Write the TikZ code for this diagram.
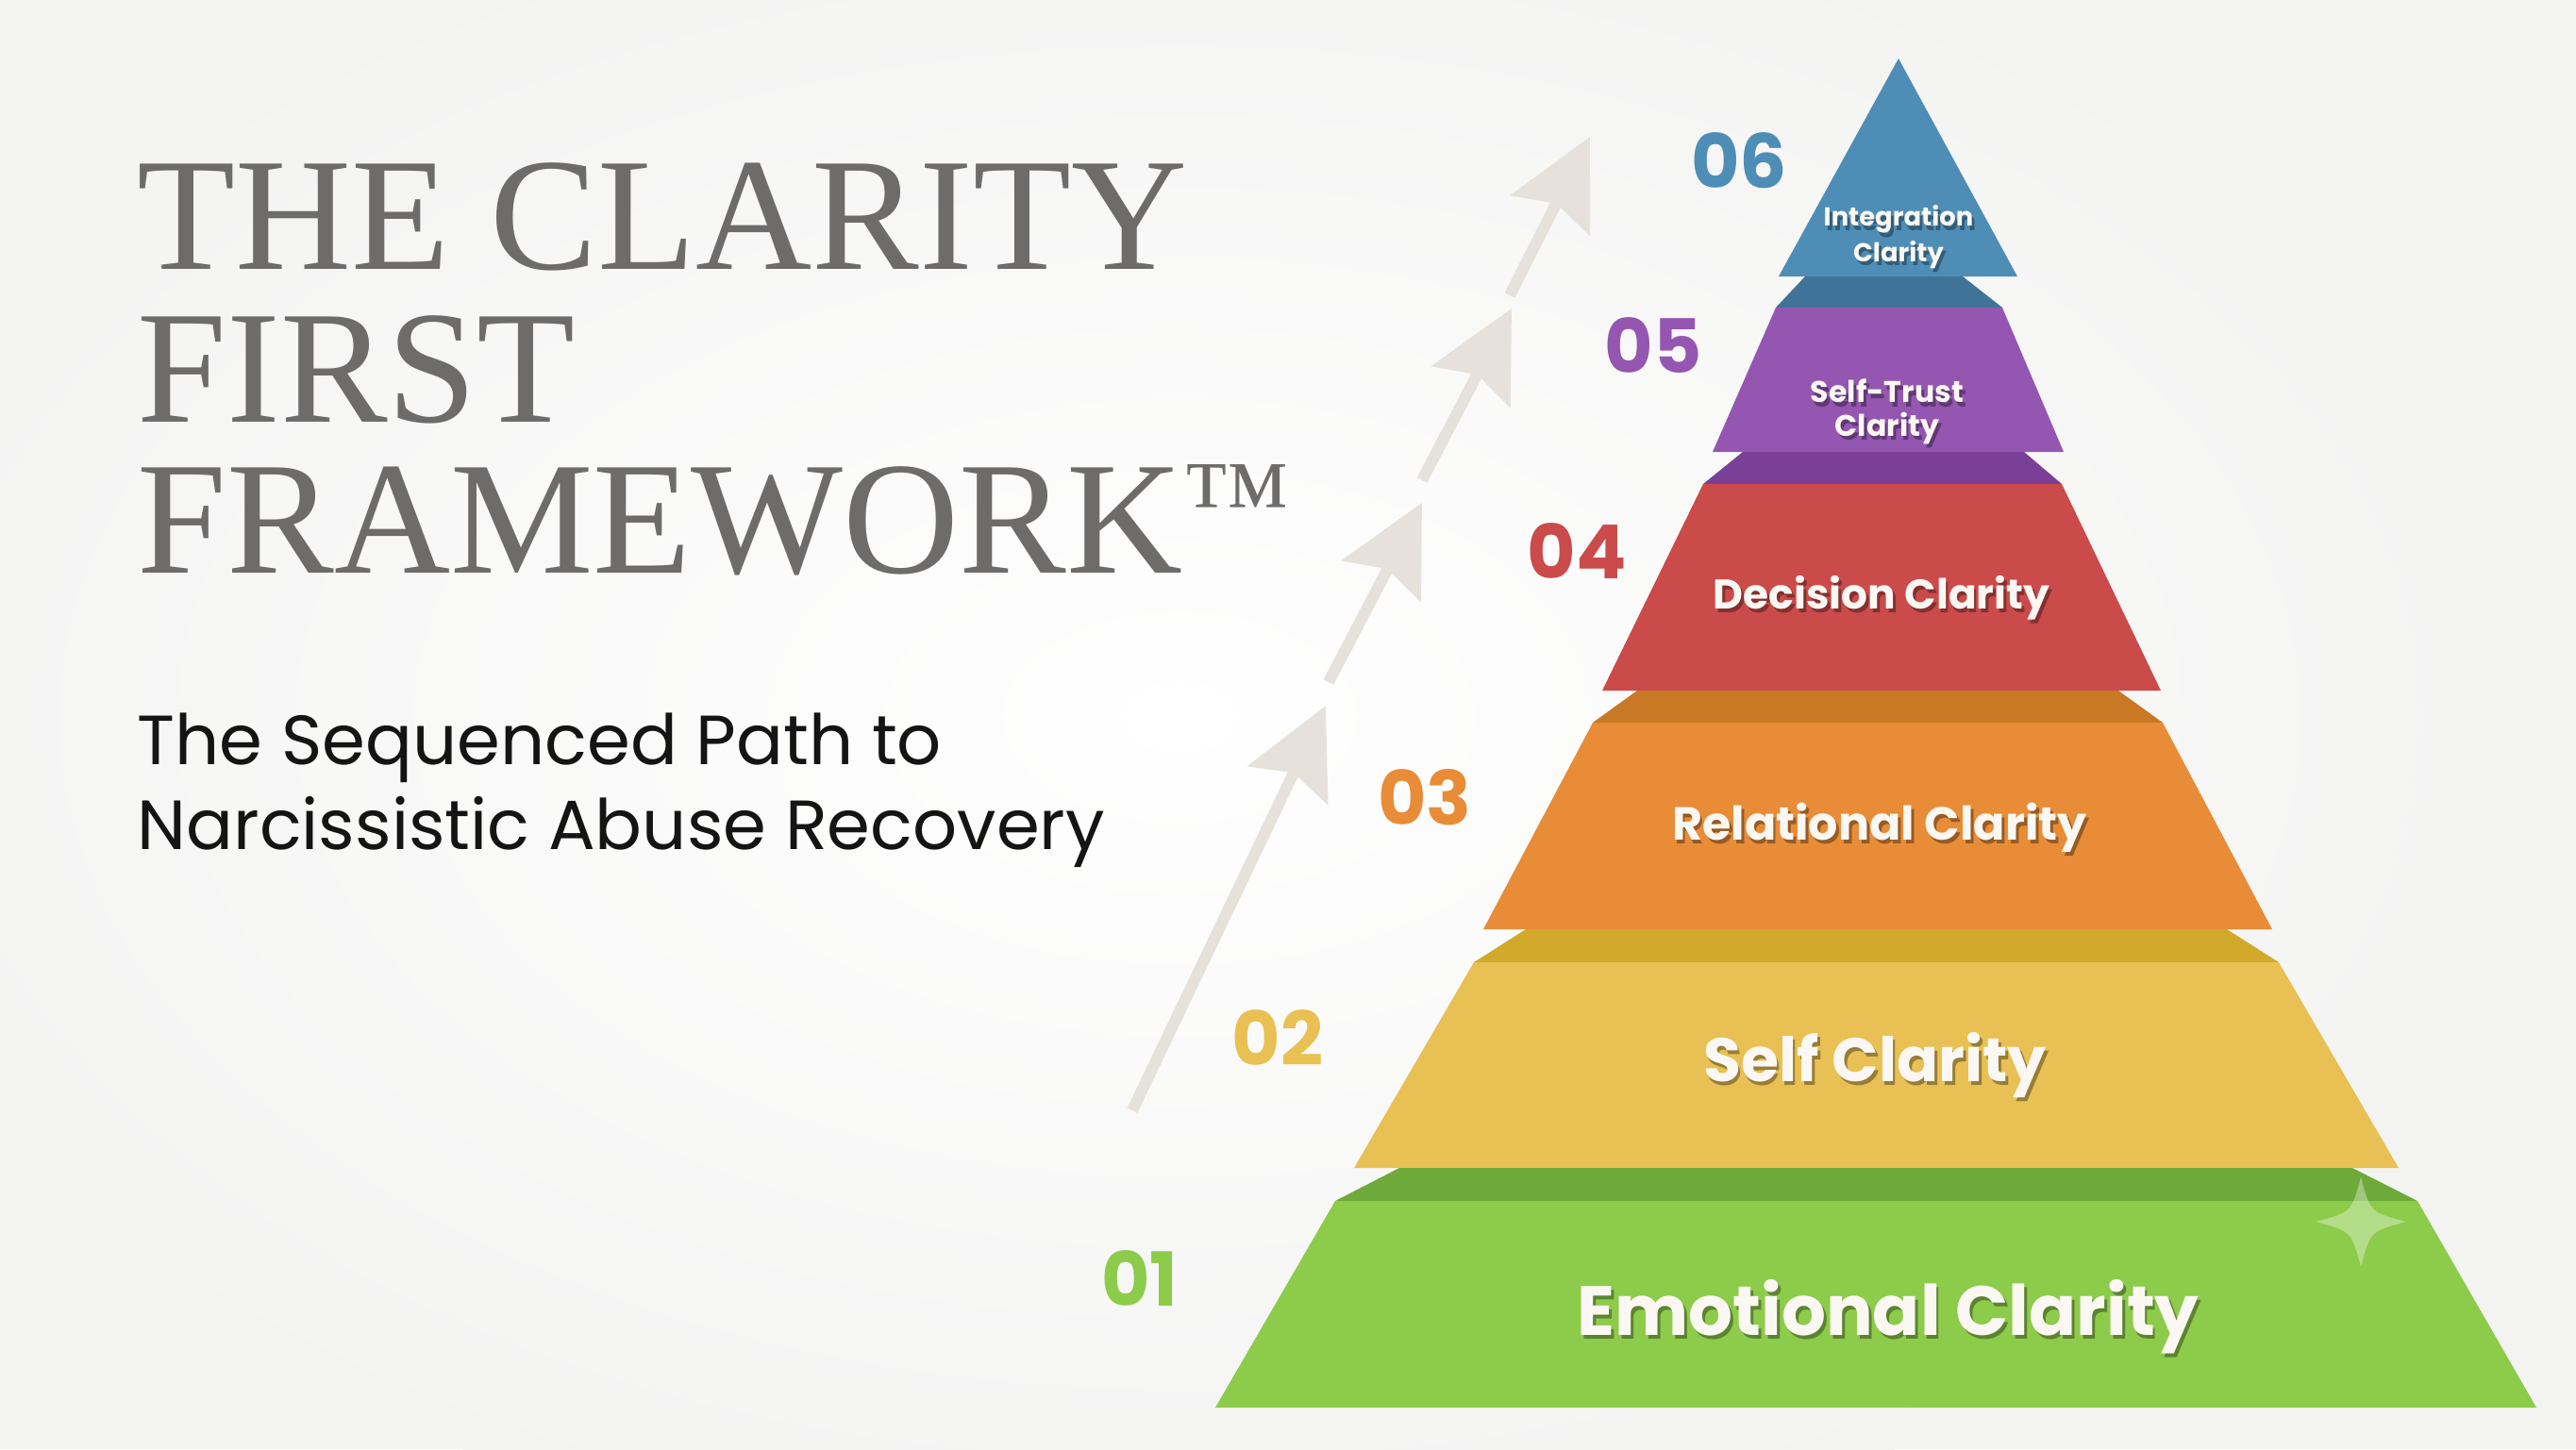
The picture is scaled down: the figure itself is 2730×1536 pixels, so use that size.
\documentclass[tikz,border=0pt]{standalone}
\usepackage{fontspec}
\setmainfont{Liberation Serif}
\newfontfamily\popfont{Poppins}
\usetikzlibrary{arrows.meta}

\definecolor{bgcol}{HTML}{F3F3F2}
\definecolor{titlegray}{HTML}{6E6C6A}
\definecolor{arrowgray}{HTML}{E6E1DB}
\definecolor{labelwhite}{HTML}{FBF8F3}
\definecolor{tblue}{HTML}{4E8EB6}
\definecolor{tblueD}{HTML}{3F7398}
\definecolor{tpurple}{HTML}{9456B1}
\definecolor{tpurpleD}{HTML}{7A3F96}
\definecolor{tred}{HTML}{CB4A4A}
\definecolor{torange}{HTML}{E88C37}
\definecolor{torangeD}{HTML}{C97823}
\definecolor{tyellow}{HTML}{E8C053}
\definecolor{tyellowD}{HTML}{D2A92B}
\definecolor{tgreen}{HTML}{8DCB4A}
\definecolor{tgreenD}{HTML}{6DAA39}

% white label text with a darker copy underneath
\newcommand\shadowed[2]{\makebox[0pt][l]{\kern0.8pt\raisebox{-1.2pt}{\textcolor{black!35!#1}{#2}}}#2}

\tikzset{
	titletext/.style={text=titlegray, inner sep=0pt, anchor=base west, font=\fontsize{48.5}{50}\selectfont},
	subtext/.style={text=black!92, inner sep=0pt, anchor=base west, font=\popfont\fontsize{21}{25}\selectfont},
	stepno/.style={inner sep=0pt, font=\popfont\bfseries\fontsize{22.5}{24}\selectfont},
	tiertext/.style={text=labelwhite, inner sep=0pt, align=center, anchor=base},
	risearrow/.style={draw=arrowgray, line width=1.2mm, -{Stealth[length=9.3mm,width=9.3mm,inset=1.4mm]}}
}

\begin{document}
\begin{tikzpicture}[x=0.1mm,y=-0.1mm]
%\draw [help lines] (0,0) grid (2730,1536);
\useasboundingbox (0,0) rectangle (2730,1536);

%background
\begin{scope}
	\clip (0,0) rectangle (2730,1536);
	\fill[bgcol] (0,0) rectangle (2730,1536);
	\shade[inner color=white, outer color=bgcol] (1250,760) ellipse [x radius=1500, y radius=900];
\end{scope}

%title and subtitle
\node[titletext] (title1) at (145,285) {THE CLARITY};
\node[titletext] (title2) at (145,447) {FIRST};
\node[titletext] (title3) at (145,607) {FRAMEWORK\raisebox{11pt}{\fontsize{33}{33}\selectfont ™}};
\node[subtext] (sub1) at (145,810) {The Sequenced Path to};
\node[subtext] (sub2) at (145,900) {Narcissistic Abuse Recovery};

%rising arrows
\foreach \sx/\sy/\tx/\ty in {1200/1177/1405/748, 1408/723/1507/533, 1507/509/1602/327, 1600/313/1685/145}{
	\draw[risearrow] (\sx,\sy)--(\tx,\ty);
}

%tiers: band colour, front colour, band top, front top, front bottom
\foreach \d/\f/\ya/\xa/\xb/\yb/\xc/\xd/\yc/\xe/\xf in {
	tblueD/tpurple/293/1913/2080/326/1882/2122/479/1815/2187,
	tpurpleD/tred/479/1847/2145/513/1805/2185/732/1698/2290,
	torangeD/torange/732/1735/2245/766/1688/2292/985/1572/2408,
	tyellowD/tyellow/985/1617/2360/1020/1562/2415/1238/1435/2542,
	tgreenD/tgreen/1238/1483/2493/1273/1415/2562/1492/1288/2688}{
	\fill[\d] (\xa,\ya)--(\xb,\ya)--(\xd,\yb)--(\xc,\yb)--cycle;
	\fill[\f] (\xc,\yb)--(\xd,\yb)--(\xf,\yc)--(\xe,\yc)--cycle;
}
%top triangle
\fill[tblue] (2012,62)--(2138,293)--(1885,293)--cycle;

%sparkle
\fill[white, opacity=0.35] (2502,1248) .. controls (2512,1285) .. (2550,1295) .. controls (2512,1305) .. (2502,1343) .. controls (2492,1305) .. (2454,1295) .. controls (2492,1285) .. (2502,1248) -- cycle;

%step numbers
\foreach \n/\c/\x/\y in {06/tblue/1843/170, 05/tpurple/1752/366, 04/tred/1671/584, 03/torange/1510/845, 02/tyellow/1354/1100, 01/tgreen/1208/1355}{
	\node[stepno, text=\c] (n\n) at (\x,\y) {\n};
}

%tier labels (base = last line)
\node[tiertext, font=\popfont\bfseries\fontsize{7.8}{9.4}\selectfont] (lab6) at (2012,277) {\shadowed{tblue}{Integration}\\\shadowed{tblue}{Clarity}};
\node[tiertext, font=\popfont\bfseries\fontsize{9}{10}\selectfont] (lab5) at (2000,462) {\shadowed{tpurple}{Self-Trust}\\\shadowed{tpurple}{Clarity}};
\node[tiertext, font=\popfont\bfseries\fontsize{12.5}{14}\selectfont] (lab4) at (1994,645) {\shadowed{tred}{Decision Clarity}};
\node[tiertext, font=\popfont\bfseries\fontsize{14}{16}\selectfont] (lab3) at (1992,890) {\shadowed{torange}{Relational Clarity}};
\node[tiertext, font=\popfont\bfseries\fontsize{18.5}{20}\selectfont] (lab2) at (1987,1146) {\shadowed{tyellow}{Self Clarity}};
\node[tiertext, font=\popfont\bfseries\fontsize{21}{24}\selectfont] (lab1) at (2001,1415) {\shadowed{tgreen}{Emotional Clarity}};
\end{tikzpicture}
\end{document}
